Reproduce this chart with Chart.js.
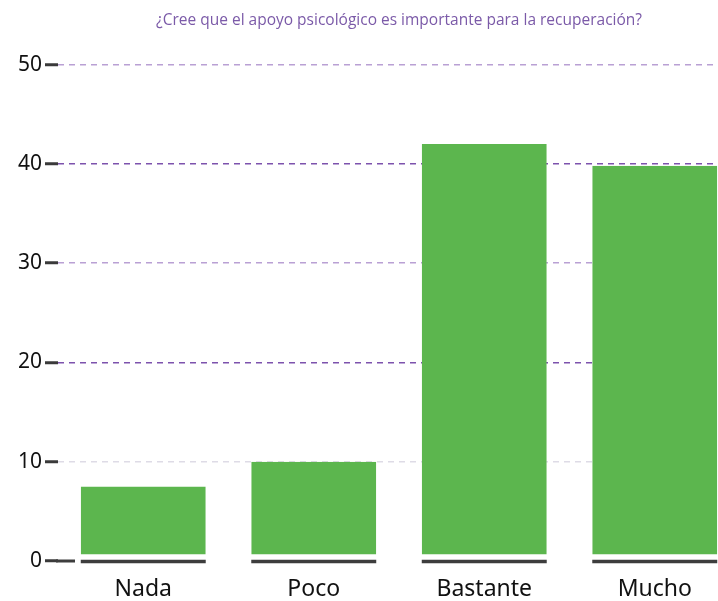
<!DOCTYPE html>
<html>
<head>
<meta charset="utf-8">
<script src="https://cdn.jsdelivr.net/npm/chart.js@4"></script>
<style>
html,body{margin:0;padding:0;background:#fff;overflow:hidden;}
#wrap{width:740px;height:601px;position:relative;}
</style>
</head>
<body>
<div id="wrap"><canvas id="c"></canvas></div>
<script>
const titleText = '¿Cree que el apoyo psicológico es importante para la recuperación?';
const categories = ['Nada', 'Poco', 'Bastante', 'Mucho'];
const values = [7.5, 10, 42, 39.8];
const yTicks = [0, 10, 20, 30, 40, 50];
const gridColors = {0: 'rgba(0,0,0,0)', 10: '#dedbe6', 20: '#7d52ad', 30: '#b9a0d4', 40: '#7d52ad', 50: '#b9a0d4'};

const baselinePlugin = {
  id: 'baselines',
  afterDatasetsDraw(chart) {
    const ctx = chart.ctx;
    const y0 = chart.scales.y.getPixelForValue(0);
    const meta = chart.getDatasetMeta(0);
    ctx.save();
    ctx.strokeStyle = '#3d3d3d';
    ctx.lineWidth = 3.5;
    meta.data.forEach(bar => {
      ctx.beginPath();
      ctx.moveTo(bar.x - bar.width / 2, y0 + 0.5);
      ctx.lineTo(bar.x + bar.width / 2, y0 + 0.5);
      ctx.stroke();
    });
    ctx.lineWidth = 3;
    ctx.beginPath();
    ctx.moveTo(chart.chartArea.left - 2, y0);
    ctx.lineTo(chart.chartArea.left + 17, y0);
    ctx.stroke();
    ctx.restore();
  }
};

new Chart(document.getElementById('c'), {
  type: 'bar',
  data: {
    labels: categories,
    datasets: [{
      data: values,
      backgroundColor: '#5cb64e',
      borderColor: 'rgba(255,255,255,0)',
      borderWidth: {top: 0, left: 0, right: 0, bottom: 6},
      borderSkipped: false,
      barPercentage: 0.733,
      categoryPercentage: 1
    }]
  },
  options: {
    responsive: true,
    maintainAspectRatio: false,
    animation: false,
    layout: {padding: {left: 0, right: 0, top: 0, bottom: 0}},
    plugins: {
      legend: {display: false},
      tooltip: {enabled: false},
      title: {
        display: true,
        text: titleText,
        fullSize: false,
        color: '#7b5aa8',
        font: {family: 'Open Sans', size: 15.5, weight: 'normal'},
        padding: {top: 11, bottom: 35}
      }
    },
    scales: {
      x: {
        grid: {display: false, drawTicks: false},
        border: {display: false},
        ticks: {color: '#111', font: {family: 'Noto Sans', size: 23}, padding: 15},
        afterFit(s) { s.height = 40; }
      },
      y: {
        min: 0,
        max: 50,
        afterBuildTicks(s) { s.ticks = yTicks.map(v => ({value: v})); },
        afterFit(s) { s.width = 58; },
        border: {display: false, dash: [6, 5]},
        grid: {
          color: c => gridColors[c.tick ? c.tick.value : 0] || 'rgba(0,0,0,0)',
          lineWidth: 1.5,
          tickColor: '#3a3a3a',
          tickWidth: 3,
          tickLength: 13,
          tickBorderDash: [0, 0]
        },
        ticks: {color: '#111', font: {family: 'Noto Sans', size: 21}, padding: 3}
      }
    }
  },
  plugins: [baselinePlugin]
});
</script>
</body>
</html>
